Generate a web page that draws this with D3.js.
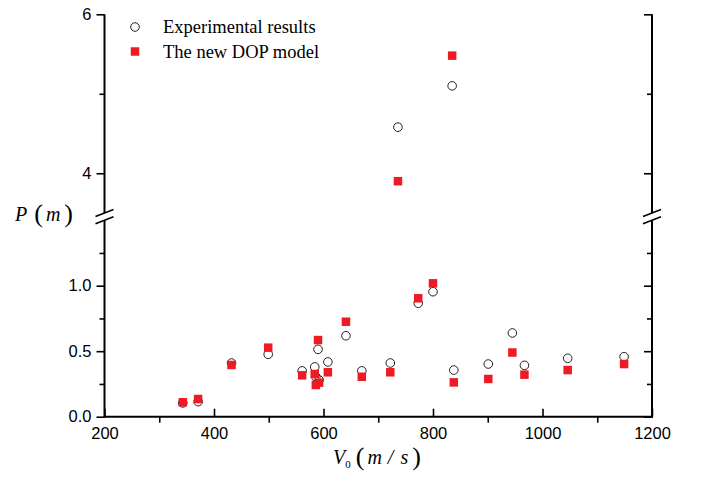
<!DOCTYPE html>
<html>
<head>
<meta charset="utf-8">
<script src="https://cdn.jsdelivr.net/npm/d3@7"></script>
<style>
  body { margin: 0; background: #fff; }
  .tick text { font-family: "Liberation Sans", Arial, sans-serif; font-size: 16.5px; fill: #000; }
  .serif { font-family: "Liberation Serif", "Times New Roman", serif; }
</style>
</head>
<body>
<div id="chart"></div>
<script>
// impact velocity (m/s)
var velocity = [343, 371, 432, 499, 561, 584, 590, 586, 592, 608, 641, 670, 722, 736, 773, 800, 835, 838, 901, 945, 967, 1046, 1149];
// penetration depth (m)
var experimental = [0.105, 0.115, 0.41, 0.476, 0.35, 0.38, 0.514, 0.305, 0.28, 0.418, 0.618, 0.35, 0.41, 4.58, 0.866, 0.954, 5.10, 0.356, 0.402, 0.639, 0.392, 0.446, 0.458];
var dopModel = [0.11, 0.135, 0.395, 0.527, 0.316, 0.326, 0.585, 0.242, 0.26, 0.339, 0.725, 0.305, 0.339, 3.90, 0.904, 1.018, 5.48, 0.262, 0.288, 0.49, 0.321, 0.356, 0.402];

var xTicks = [200, 400, 600, 800, 1000, 1200];
var xMinor = [300, 500, 700, 900, 1100];
var lowTicks = [0, 0.5, 1.0];
var lowMinor = [0.25, 0.75, 1.25];
var highTicks = [4, 6];
var highMinor = [5];
var seriesNames = ["Experimental results", "The new DOP model"];

var width = 703, height = 483;
var left = 104.5, right = 652, bottom = 416.7;

var svg = d3.select("#chart").append("svg")
    .attr("width", width)
    .attr("height", height);

var x = d3.scaleLinear().domain([200, 1200]).range([left, right]);
var yLow = d3.scaleLinear().domain([0, 1.5]).range([bottom, 220.2]);
var yHigh = d3.scaleLinear().domain([3.5, 6]).range([213, 14.3]);

function yPos(p) { return p <= 1.5 ? yLow(p) : yHigh(p); }

function thick(g) { g.select(".domain").remove(); g.selectAll(".tick line").attr("stroke-width", 1.6); }

// bottom axis: major ticks inside, minor ticks outside
svg.append("g")
    .attr("transform", "translate(0," + bottom + ")")
    .call(d3.axisBottom(x).tickValues(xTicks).tickSize(-8).tickPadding(11).tickFormat(d3.format("d")))
    .call(thick);
svg.append("g")
    .attr("transform", "translate(0," + bottom + ")")
    .call(d3.axisBottom(x).tickValues(xMinor).tickSize(6).tickFormat(""))
    .call(thick);

// left axis, two segments, ticks outside
function leftAxis(scale, major, minor, fmt) {
    svg.append("g")
        .attr("transform", "translate(" + left + ",0)")
        .call(d3.axisLeft(scale).tickValues(major).tickSize(8).tickPadding(5).tickFormat(fmt))
        .call(thick);
    svg.append("g")
        .attr("transform", "translate(" + left + ",0)")
        .call(d3.axisLeft(scale).tickValues(minor).tickSize(5).tickFormat(""))
        .call(thick);
}
leftAxis(yLow, lowTicks, lowMinor, d3.format(".1f"));
leftAxis(yHigh, highTicks, highMinor, d3.format("d"));

// right axis, ticks inside
function rightAxis(scale, major, minor) {
    svg.append("g")
        .attr("transform", "translate(" + right + ",0)")
        .call(d3.axisLeft(scale).tickValues(major).tickSize(8).tickFormat(""))
        .call(thick);
    svg.append("g")
        .attr("transform", "translate(" + right + ",0)")
        .call(d3.axisLeft(scale).tickValues(minor).tickSize(5).tickFormat(""))
        .call(thick);
}
rightAxis(yLow, lowTicks, lowMinor);
rightAxis(yHigh, highTicks, highMinor);

// axis lines
var frame = svg.append("g").attr("stroke", "#000").attr("stroke-width", 2).attr("fill", "none");
frame.append("line").attr("x1", left - 1).attr("x2", right + 1).attr("y1", bottom).attr("y2", bottom);
[left, right].forEach(function (xx) {
    frame.append("line").attr("x1", xx).attr("x2", xx).attr("y1", yHigh(6)).attr("y2", yHigh(3.5));
    frame.append("line").attr("x1", xx).attr("x2", xx).attr("y1", yLow(1.5)).attr("y2", bottom + 1);
    // break marks
    [yHigh(3.5), yLow(1.5)].forEach(function (yy) {
        frame.append("line")
            .attr("stroke-width", 1.6)
            .attr("x1", xx - 9).attr("y1", yy + 3.5)
            .attr("x2", xx + 9).attr("y2", yy - 3.5);
    });
});

// data points
var points = velocity.map(function (v, i) { return { v: v, exp: experimental[i], dop: dopModel[i] }; });

var sq = 8.5;
svg.append("g").selectAll("circle")
    .data(points).enter().append("circle")
    .attr("cx", function (d) { return x(d.v); })
    .attr("cy", function (d) { return yPos(d.exp); })
    .attr("r", 4.3)
    .attr("fill", "none")
    .attr("stroke", "#222")
    .attr("stroke-width", 1);

svg.append("g").selectAll("rect")
    .data(points).enter().append("rect")
    .attr("x", function (d) { return x(d.v) - sq / 2; })
    .attr("y", function (d) { return yPos(d.dop) - sq / 2; })
    .attr("width", sq)
    .attr("height", sq)
    .attr("fill", "#ed1c24");

// legend
var legend = svg.append("g");
legend.append("circle").attr("cx", 135).attr("cy", 27).attr("r", 4.3)
    .attr("fill", "none").attr("stroke", "#222").attr("stroke-width", 1);
legend.append("rect").attr("x", 135 - sq / 2).attr("y", 51.5 - sq / 2).attr("width", sq).attr("height", sq)
    .attr("fill", "#ed1c24");
legend.selectAll("text").data(seriesNames).enter().append("text")
    .attr("class", "serif")
    .attr("x", 163)
    .attr("y", function (d, i) { return 33 + i * 24.5; })
    .attr("font-size", 18.5)
    .text(function (d) { return d; });

// axis titles
var yTitle = svg.append("text").attr("class", "serif").attr("x", 15).attr("y", 221).attr("font-size", 20);
yTitle.append("tspan").attr("font-style", "italic").text("P");
yTitle.append("tspan").attr("dx", 7).attr("font-size", 26).attr("dy", 1).attr("font-weight", 300).text("(");
yTitle.append("tspan").attr("dx", 3).attr("font-style", "italic").attr("dy", -1).text("m");
yTitle.append("tspan").attr("dx", 4).attr("font-size", 26).attr("dy", 1).text(")");

var xTitle = svg.append("text").attr("class", "serif").attr("x", 333).attr("y", 464).attr("font-size", 20);
xTitle.append("tspan").attr("font-style", "italic").text("V");
xTitle.append("tspan").attr("font-size", 11).attr("dy", 4).text("0");
xTitle.append("tspan").attr("dx", 5).attr("dy", -3).attr("font-size", 26).text("(");
xTitle.append("tspan").attr("dx", 3).attr("font-style", "italic").attr("dy", -1).text("m");
xTitle.append("tspan").attr("dx", 6).attr("font-style", "italic").text("/");
xTitle.append("tspan").attr("dx", 7).attr("font-style", "italic").text("s");
xTitle.append("tspan").attr("dx", 4).attr("font-size", 26).attr("dy", 1).text(")");
</script>
</body>
</html>
